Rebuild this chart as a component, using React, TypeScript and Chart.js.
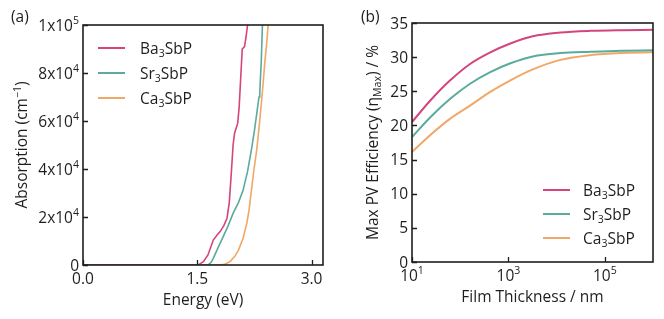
import React, { useEffect, useRef } from "react";
import { Chart, registerables } from "chart.js";
Chart.register(...registerables);

const FONT = "'Open Sans', 'DejaVu Sans', sans-serif";
const INK = "#1e1e1e";
const FS = 15.5;

const SERIES_NAMES = ["Ba_{3}SbP", "Sr_{3}SbP", "Ca_{3}SbP"];
const COLORS = ["#d4457d", "#5aab9d", "#f0a868"];

// ---- Panel (a): absorption vs energy ----
const BA_ENERGY = [0, 1.51, 1.55, 1.58, 1.64, 1.71, 1.76, 1.8, 1.85, 1.89, 1.92, 1.95, 1.97, 1.99, 2.03, 2.05, 2.07, 2.09, 2.12, 2.14, 2.16, 2.18];
const BA_ABS = [0, 0, 800, 1400, 4200, 10400, 12500, 13900, 16500, 19500, 26000, 40000, 50000, 55000, 59000, 66000, 78000, 90000, 91000, 95000, 100000, 106000];

const SR_ENERGY = [0, 1.64, 1.68, 1.71, 1.77, 1.84, 1.9, 1.97, 2.04, 2.1, 2.16, 2.21, 2.25, 2.28, 2.31, 2.32, 2.34, 2.355, 2.37];
const SR_ABS = [0, 0, 1000, 2800, 7000, 11800, 16000, 21500, 26000, 31000, 39000, 48000, 56000, 63000, 70000, 72000, 85000, 100000, 110000];

const CA_ENERGY = [0, 1.78, 1.86, 1.93, 1.99, 2.04, 2.1, 2.15, 2.18, 2.21, 2.245, 2.28, 2.31, 2.34, 2.365, 2.385, 2.41, 2.43, 2.45];
const CA_ABS = [0, 0, 300, 1400, 3500, 6200, 11000, 17400, 23000, 31000, 40000, 48000, 57000, 67000, 76000, 84000, 92000, 100000, 108000];

const A_X_TICKS = [0, 1.5, 3.0];
const A_X_TICK_LABELS = ["0.0", "1.5", "3.0"];
const A_Y_TICKS = [0, 20000, 40000, 60000, 80000, 100000];
const A_Y_TICK_LABELS = ["0", "2x10^{4}", "4x10^{4}", "6x10^{4}", "8x10^{4}", "1x10^{5}"];

// ---- Panel (b): max PV efficiency vs film thickness ----
const THICKNESS = [10, 24, 62, 160, 420, 1100, 3200, 12000, 51000, 214000, 1000000];
const BA_EFF = [20.5, 23.65, 26.6, 29.0, 30.7, 32.0, 33.05, 33.6, 33.85, 33.95, 34.0];
const SR_EFF = [18.3, 21.2, 23.9, 26.1, 27.8, 29.1, 30.1, 30.6, 30.8, 30.95, 31.0];
const CA_EFF = [16.1, 18.6, 21.0, 22.9, 24.9, 26.6, 28.2, 29.6, 30.3, 30.6, 30.7];

const B_X_TICKS = [10, 1000, 100000];
const B_X_TICK_LABELS = ["10^{1}", "10^{3}", "10^{5}"];
const B_Y_TICKS = [0, 5, 10, 15, 20, 25, 30, 35];
const B_Y_TICK_LABELS = ["0", "5", "10", "15", "20", "25", "30", "35"];

type Seg = { t: string; k: "n" | "sub" | "sup" };
function parse(s: string): Seg[] {
  const out: Seg[] = [];
  const re = /([_^])\{([^}]*)\}/g;
  let last = 0;
  let m: RegExpExecArray | null;
  while ((m = re.exec(s))) {
    if (m.index > last) out.push({ t: s.slice(last, m.index), k: "n" });
    out.push({ t: m[2], k: m[1] === "_" ? "sub" : "sup" });
    last = re.lastIndex;
  }
  if (last < s.length) out.push({ t: s.slice(last), k: "n" });
  return out;
}
function segSize(k: string, size: number) {
  return k === "n" ? size : size * 0.68;
}
function richWidth(ctx: CanvasRenderingContext2D, s: string, size: number) {
  let w = 0;
  for (const seg of parse(s)) {
    ctx.font = `${segSize(seg.k, size)}px ${FONT}`;
    w += ctx.measureText(seg.t).width;
  }
  return w;
}
function drawRich(ctx: CanvasRenderingContext2D, s: string, x: number, y: number, size: number, align: "left" | "center" | "right") {
  const w = richWidth(ctx, s, size);
  let cx = align === "left" ? x : align === "center" ? x - w / 2 : x - w;
  ctx.textAlign = "left";
  ctx.textBaseline = "alphabetic";
  ctx.fillStyle = INK;
  for (const seg of parse(s)) {
    const fs = segSize(seg.k, size);
    ctx.font = `${fs}px ${FONT}`;
    const dy = seg.k === "sub" ? size * 0.22 : seg.k === "sup" ? -size * 0.4 : 0;
    ctx.fillText(seg.t, cx, y + dy);
    cx += ctx.measureText(seg.t).width;
  }
}

type Deco = {
  xTicks: number[];
  xLabels: string[];
  yTicks: number[];
  yLabels: string[];
  xTitle: string;
  yTitle: string;
  yTitleX: number;
  panel: string;
  panelX: number;
  legendX: number;
  legendTextX: number;
  legendRows: number[];
  legendFromBottom: boolean;
};

function decoPlugin(d: Deco) {
  return {
    id: "deco",
    afterDraw(chart: any) {
      const ctx: CanvasRenderingContext2D = chart.ctx;
      const { left, right, top, bottom } = chart.chartArea;
      const xs = chart.scales.x;
      const ys = chart.scales.y;
      ctx.save();
      // frame
      ctx.strokeStyle = INK;
      ctx.lineWidth = 1.6;
      ctx.strokeRect(left, top, right - left, bottom - top);
      // ticks
      ctx.lineWidth = 1.3;
      ctx.beginPath();
      d.xTicks.forEach((v) => {
        const px = Math.round(xs.getPixelForValue(v)) + 0.5;
        ctx.moveTo(px, bottom);
        ctx.lineTo(px, bottom - 5);
      });
      d.yTicks.forEach((v) => {
        const py = Math.round(ys.getPixelForValue(v)) + 0.5;
        ctx.moveTo(left, py);
        ctx.lineTo(left + 5, py);
      });
      ctx.stroke();
      // tick labels
      d.xTicks.forEach((v, i) => {
        drawRich(ctx, d.xLabels[i], xs.getPixelForValue(v), bottom + 18.5, FS, "center");
      });
      d.yTicks.forEach((v, i) => {
        drawRich(ctx, d.yLabels[i], left - 4, ys.getPixelForValue(v) + 5.5, FS, "right");
      });
      // axis titles
      drawRich(ctx, d.xTitle, (left + right) / 2, bottom + 40, FS, "center");
      ctx.save();
      ctx.translate(d.yTitleX, (top + bottom) / 2);
      ctx.rotate(-Math.PI / 2);
      drawRich(ctx, d.yTitle, 0, 0, FS, "center");
      ctx.restore();
      // panel label
      drawRich(ctx, d.panel, d.panelX, 22, FS, "left");
      // legend
      d.legendRows.forEach((off, i) => {
        const y = d.legendFromBottom ? bottom - off : top + off;
        ctx.strokeStyle = COLORS[i];
        ctx.lineWidth = 2;
        ctx.beginPath();
        ctx.moveTo(left + d.legendX, y);
        ctx.lineTo(left + d.legendX + 27, y);
        ctx.stroke();
        drawRich(ctx, SERIES_NAMES[i], left + d.legendTextX, y + 6, FS, "left");
      });
      ctx.restore();
    },
  };
}

function toPoints(xs: number[], ys: number[]) {
  return xs.map((x, i) => ({ x, y: ys[i] }));
}

function PanelA() {
  const ref = useRef<HTMLCanvasElement>(null);
  useEffect(() => {
    const chart = new Chart(ref.current!, {
      type: "line",
      data: {
        datasets: [
          { data: toPoints(BA_ENERGY, BA_ABS), borderColor: COLORS[0] },
          { data: toPoints(SR_ENERGY, SR_ABS), borderColor: COLORS[1] },
          { data: toPoints(CA_ENERGY, CA_ABS), borderColor: COLORS[2] },
        ],
      },
      options: {
        responsive: false,
        animation: false,
        devicePixelRatio: 1,
        layout: { padding: { left: 0, right: 9, top: 25, bottom: 0 } },
        plugins: { legend: { display: false }, tooltip: { enabled: false } },
        elements: { point: { radius: 0 }, line: { borderWidth: 1.6, tension: 0 } },
        scales: {
          x: {
            type: "linear",
            min: 0,
            max: 3.15,
            ticks: { display: false },
            grid: { display: false },
            border: { display: false },
            afterFit: (s: any) => { s.height = 54; },
          },
          y: {
            type: "linear",
            min: 0,
            max: 100000,
            ticks: { display: false },
            grid: { display: false },
            border: { display: false },
            afterFit: (s: any) => { s.width = 83; },
          },
        },
      },
      plugins: [
        decoPlugin({
          xTicks: A_X_TICKS,
          xLabels: A_X_TICK_LABELS,
          yTicks: A_Y_TICKS,
          yLabels: A_Y_TICK_LABELS,
          xTitle: "Energy (eV)",
          yTitle: "Absorption (cm^{\u22121})",
          yTitleX: 27,
          panel: "(a)",
          panelX: 11,
          legendX: 15,
          legendTextX: 57,
          legendRows: [23, 48, 73],
          legendFromBottom: false,
        }),
      ],
    } as any);
    return () => chart.destroy();
  }, []);
  return <canvas ref={ref} width={332} height={319} style={{ position: "absolute", left: 0, top: 0 }} />;
}

function PanelB() {
  const ref = useRef<HTMLCanvasElement>(null);
  useEffect(() => {
    const chart = new Chart(ref.current!, {
      type: "line",
      data: {
        datasets: [
          { data: toPoints(THICKNESS, BA_EFF), borderColor: COLORS[0] },
          { data: toPoints(THICKNESS, SR_EFF), borderColor: COLORS[1] },
          { data: toPoints(THICKNESS, CA_EFF), borderColor: COLORS[2] },
        ],
      },
      options: {
        responsive: false,
        animation: false,
        devicePixelRatio: 1,
        layout: { padding: { left: 0, right: 11, top: 23, bottom: 0 } },
        plugins: { legend: { display: false }, tooltip: { enabled: false } },
        elements: { point: { radius: 0 }, line: { borderWidth: 2, cubicInterpolationMode: "monotone" } },
        scales: {
          x: {
            type: "logarithmic",
            min: 10,
            max: 1000000,
            ticks: { display: false },
            grid: { display: false },
            border: { display: false },
            afterFit: (s: any) => { s.height = 57; },
          },
          y: {
            type: "linear",
            min: 0,
            max: 35,
            ticks: { display: false },
            grid: { display: false },
            border: { display: false },
            afterFit: (s: any) => { s.width = 80; },
          },
        },
      },
      plugins: [
        decoPlugin({
          xTicks: B_X_TICKS,
          xLabels: B_X_TICK_LABELS,
          yTicks: B_Y_TICKS,
          yLabels: B_Y_TICK_LABELS,
          xTitle: "Film Thickness / nm",
          yTitle: "Max PV Efficiency (\u03b7_{Max}) / %",
          yTitleX: 46,
          panel: "(b)",
          panelX: 29,
          legendX: 131,
          legendTextX: 171,
          legendRows: [72, 48, 24],
          legendFromBottom: true,
        }),
      ],
    } as any);
    return () => chart.destroy();
  }, []);
  return <canvas ref={ref} width={332} height={319} style={{ position: "absolute", left: 332, top: 0 }} />;
}

export default function App() {
  return (
    <div style={{ position: "absolute", left: 0, top: 0, width: 664, height: 319, background: "#fff" }}>
      <PanelA />
      <PanelB />
    </div>
  );
}
